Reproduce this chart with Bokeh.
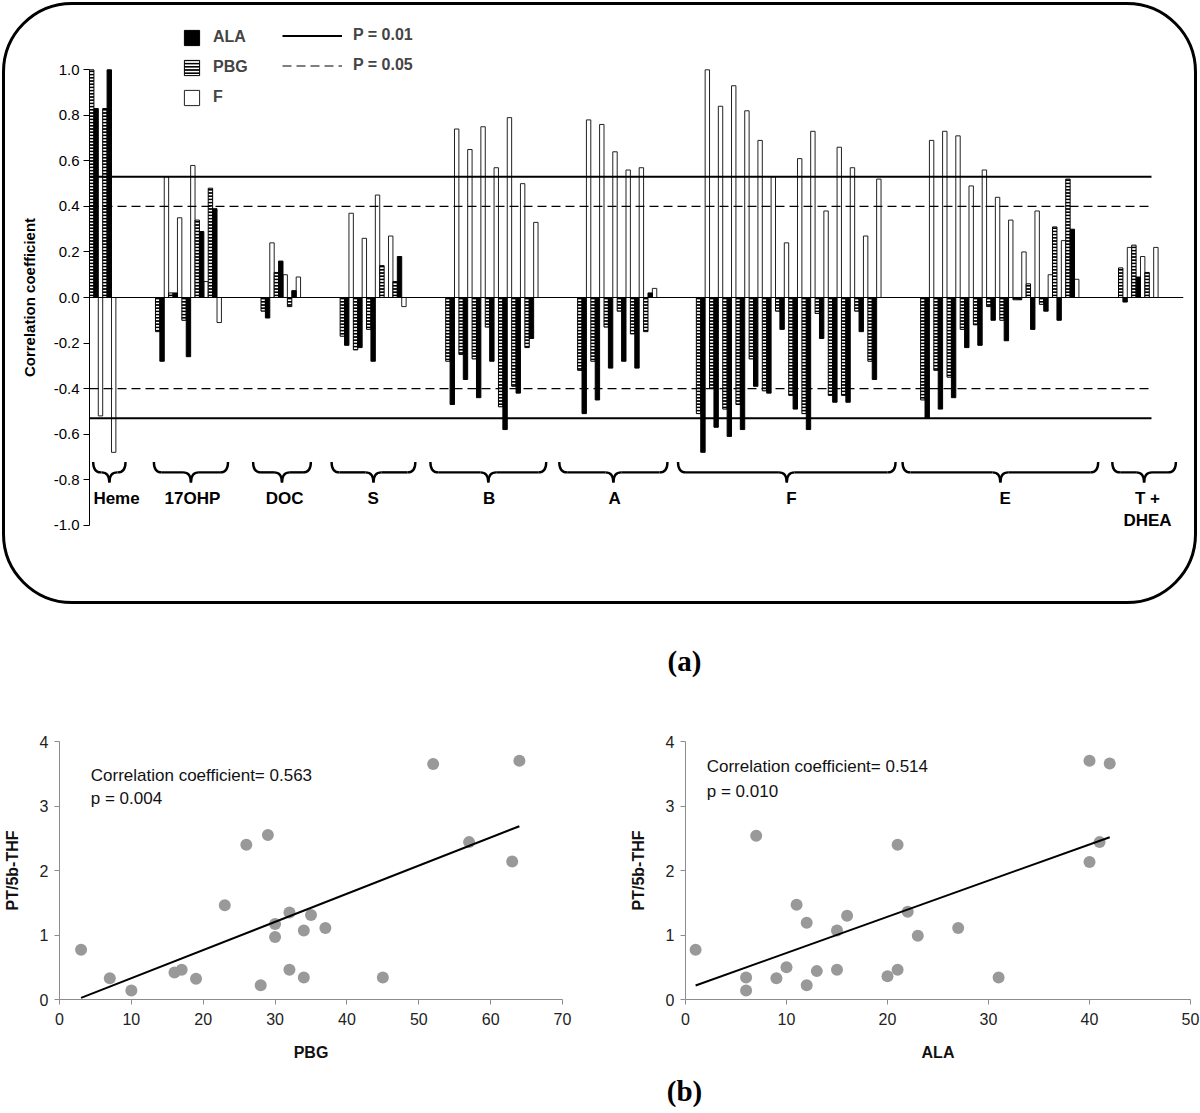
import numpy as np
from bokeh.plotting import figure
from bokeh.models import (Range1d, Span, Legend, LegendItem, Label, FixedTicker,
                          NumeralTickFormatter, ColumnDataSource)
from bokeh.layouts import column, row
from bokeh.embed import file_html
from bokeh.resources import INLINE
from bokeh.core.properties import value

FONT = "Liberation Sans"
SERIF = "Liberation Serif"

# ---------------- (a) data ----------------
group_names = ["Heme", "17OHP", "DOC", "S", "B", "A", "F", "E", "T +\nDHEA"]
group_first_category = [0, 5, 13, 19, 27, 37, 46, 63, 78]

heme_pbg = [1.00, 0.83]
heme_ala = [0.83, 1.00]
heme_f = [-0.52, -0.68]

ohp_pbg = [-0.15, 0.02, -0.10, 0.34, 0.48]
ohp_ala = [-0.28, 0.02, -0.26, 0.29, 0.39]
ohp_f = [0.53, 0.35, 0.58, 0.07, -0.11]

doc_pbg = [-0.06, 0.11, -0.04]
doc_ala = [-0.09, 0.16, 0.03]
doc_f = [0.24, 0.10, 0.09]

s_pbg = [-0.17, -0.23, -0.14, 0.14, 0.07]
s_ala = [-0.21, -0.22, -0.28, 0.00, 0.18]
s_f = [0.37, 0.26, 0.45, 0.27, -0.04]

b_pbg = [-0.28, -0.25, -0.27, -0.13, -0.48, -0.39, -0.22]
b_ala = [-0.47, -0.36, -0.44, -0.28, -0.58, -0.42, -0.18]
b_f = [0.74, 0.65, 0.75, 0.57, 0.79, 0.50, 0.33]

a_pbg = [-0.32, -0.28, -0.13, -0.06, -0.16, -0.15]
a_ala = [-0.51, -0.45, -0.31, -0.28, -0.31, 0.02]
a_f = [0.78, 0.76, 0.64, 0.56, 0.57, 0.04]

f_pbg = [-0.51, -0.40, -0.49, -0.47, -0.27, -0.41, -0.06, -0.43, -0.51, -0.07, -0.43, -0.43, -0.06, -0.28]
f_ala = [-0.68, -0.57, -0.61, -0.58, -0.39, -0.42, -0.14, -0.49, -0.58, -0.18, -0.46, -0.46, -0.15, -0.36]
f_f = [1.00, 0.84, 0.93, 0.82, 0.69, 0.53, 0.24, 0.61, 0.73, 0.38, 0.66, 0.57, 0.27, 0.52]

e_pbg = [-0.45, -0.32, -0.35, -0.14, -0.12, -0.04, -0.10, -0.01, 0.06, -0.03, 0.31, 0.52]
e_ala = [-0.53, -0.49, -0.44, -0.22, -0.21, -0.10, -0.19, -0.01, -0.14, -0.06, -0.10, 0.30]
e_f = [0.69, 0.73, 0.71, 0.49, 0.56, 0.44, 0.34, 0.20, 0.38, 0.10, 0.25, 0.08]

t_pbg = [0.13, 0.23, 0.11]
t_ala = [-0.02, 0.09, 0.00]
t_f = [0.22, 0.18, 0.22]

pbg_groups = [heme_pbg, ohp_pbg, doc_pbg, s_pbg, b_pbg, a_pbg, f_pbg, e_pbg, t_pbg]
ala_groups = [heme_ala, ohp_ala, doc_ala, s_ala, b_ala, a_ala, f_ala, e_ala, t_ala]
f_groups = [heme_f, ohp_f, doc_f, s_f, b_f, a_f, f_f, e_f, t_f]

brace_start = [0.28, 4.88, 12.40, 18.35, 25.84, 35.61, 44.61, 61.63, 77.53]
brace_end = [2.73, 10.50, 16.78, 24.70, 34.62, 43.81, 61.10, 76.46, 82.35]
label_center = [2.05, 7.80, 14.79, 21.51, 30.30, 39.80, 53.20, 69.40, 80.20]

y_ticks_a = [-1.0, -0.8, -0.6, -0.4, -0.2, 0.0, 0.2, 0.4, 0.6, 0.8, 1.0]
p_001 = 0.53
p_005 = 0.40
last_category = 80

# ---------------- (b) data ----------------
pbg_x = [3, 7, 10, 16, 17, 19, 23, 26, 28, 29, 30, 30, 32, 32, 34, 34, 35, 37, 45, 52, 57, 63, 64]
pbg_y = [0.77, 0.33, 0.14, 0.42, 0.46, 0.32, 1.46, 2.40, 0.22, 2.55, 1.17, 0.97, 1.35, 0.46,
         1.07, 0.34, 1.31, 1.11, 0.34, 3.65, 2.44, 2.14, 3.70]
ala_x = [1, 6, 6, 7, 9, 10, 11, 12, 12, 13, 15, 15, 16, 20, 21, 21, 22, 23, 27, 31, 40, 40, 41, 42]
ala_y = [0.77, 0.34, 0.14, 2.54, 0.33, 0.50, 1.47, 1.19, 0.22, 0.44, 1.07, 0.46, 1.30, 0.36,
         2.40, 0.46, 1.36, 0.99, 1.11, 0.34, 2.13, 3.70, 2.44, 3.66]
pbg_ticks = [0, 10, 20, 30, 40, 50, 60, 70]
ala_ticks = [0, 10, 20, 30, 40, 50]
thf_ticks = [0, 1, 2, 3, 4]

# ---------------- build (a) ----------------
cats, vp, va, vf = [], [], [], []
for first, gp, ga, gf in zip(group_first_category, pbg_groups, ala_groups, f_groups):
    for i in range(len(gp)):
        cats.append(first + i)
        vp.append(gp[i]); va.append(ga[i]); vf.append(gf[i])
cats = np.array(cats, dtype=float)

PX_PER_CAT = 13.12
PX_PER_UNIT = 224.5
FRAME_W, FRAME_H = 1088, 564
y_top = 282 / PX_PER_UNIT
y_bot = y_top - FRAME_H / PX_PER_UNIT

p1 = figure(frame_width=FRAME_W, frame_height=FRAME_H,
            x_range=Range1d(0, FRAME_W / PX_PER_CAT), y_range=Range1d(y_bot, y_top),
            x_axis_location=None, toolbar_location=None, output_backend="svg",
            min_border_left=84, min_border_right=17, min_border_top=6, min_border_bottom=24)
p1.styles = {"border": "3px solid black", "border-radius": "70px",
             "width": "1195px", "height": "602px", "box-sizing": "border-box",
             "margin-left": "2px", "margin-top": "2px"}
p1.background_fill_color = None
p1.border_fill_color = None
p1.xgrid.grid_line_color = None
p1.ygrid.grid_line_color = None
p1.outline_line_color = None

w = 1.0 / 3
src_p = ColumnDataSource(dict(x=cats + w / 2, top=vp))
src_a = ColumnDataSource(dict(x=cats + 1.5 * w, top=va))
src_f = ColumnDataSource(dict(x=cats + 2.5 * w, top=vf))
r_f = p1.vbar(x="x", top="top", bottom=0, width=w, source=src_f,
              fill_color="white", line_color="#222222", line_width=1)
r_p = p1.vbar(x="x", top="top", bottom=0, width=w, source=src_p,
              fill_color="white", line_color="black", line_width=1,
              hatch_pattern="horizontal_line", hatch_color="black",
              hatch_scale=3.2, hatch_weight=2.0)
r_a = p1.vbar(x="x", top="top", bottom=0, width=w, source=src_a,
              fill_color="black", line_color="black", line_width=1)

p1.add_layout(Span(location=0, dimension="width", line_color="black", line_width=1))

x_line = [0, last_category + 0.5]
r_s = p1.multi_line(xs=[x_line, x_line], ys=[[p_001, p_001], [-p_001, -p_001]],
                    line_color="black", line_width=2)
r_d = p1.multi_line(xs=[x_line, x_line], ys=[[p_005, p_005], [-p_005, -p_005]],
                    line_color="black", line_width=1.2, line_dash="9 5")

# braces
yt, ym, yb, r = -0.722, -0.768, -0.812, 0.6
bs = np.array(brace_start); be = np.array(brace_end); bm = (bs + be) / 2
qx0 = np.concatenate([bs, bm - r, bm + r, be])
qy0 = np.concatenate([np.full_like(bs, yt), np.full_like(bs, ym), np.full_like(bs, ym), np.full_like(bs, yt)])
qx1 = np.concatenate([bs + r, bm, bm, be - r])
qy1 = np.concatenate([np.full_like(bs, ym), np.full_like(bs, yb), np.full_like(bs, yb), np.full_like(bs, ym)])
qcx = np.concatenate([bs, bm, bm, be])
qcy = np.full_like(qx0, ym)
p1.quadratic(x0=qx0, y0=qy0, x1=qx1, y1=qy1, cx=qcx, cy=qcy, line_color="black", line_width=2.4)
p1.segment(x0=np.concatenate([bs + r, bm + r]), y0=np.full(2 * len(bs), ym),
           x1=np.concatenate([bm - r, be - r]), y1=np.full(2 * len(bs), ym),
           line_color="black", line_width=2.4)

p1.text(x=label_center, y=[-0.839] * len(label_center), text=group_names,
        text_align="center", text_baseline="top", text_font=value(FONT),
        text_font_style="bold", text_font_size="17px", text_line_height=1.2,
        text_color="black")

ax = p1.yaxis[0]
ax.ticker = FixedTicker(ticks=y_ticks_a)
ax.formatter = NumeralTickFormatter(format="0.0")
ax.bounds = (-1, 1)
ax.major_tick_out = 6
ax.major_tick_in = 0
ax.minor_tick_line_color = None
ax.axis_line_color = "black"
ax.major_tick_line_color = "black"
ax.major_label_text_font = FONT
ax.major_label_text_font_size = "15px"
ax.major_label_text_color = "black"
ax.major_label_standoff = 4
ax.axis_label = "Correlation coefficient"
ax.axis_label_text_font = FONT
ax.axis_label_text_font_style = "bold"
ax.axis_label_text_font_size = "15px"
ax.axis_label_text_color = "black"
ax.axis_label_standoff = 13

leg1 = Legend(items=[LegendItem(label="ALA", renderers=[r_a]),
                     LegendItem(label="PBG", renderers=[r_p]),
                     LegendItem(label="F", renderers=[r_f])],
              location=(93, FRAME_H - 87.5), orientation="vertical",
              glyph_width=19, glyph_height=19, label_height=19, label_standoff=12,
              spacing=11, padding=0, margin=0, border_line_alpha=0,
              background_fill_alpha=0, label_text_font=FONT,
              label_text_font_style="bold", label_text_font_size="16px")
leg2 = Legend(items=[LegendItem(label="P = 0.01", renderers=[r_s]),
                     LegendItem(label="P = 0.05", renderers=[r_d])],
              location=(193, FRAME_H - 55.5), orientation="vertical",
              glyph_width=60, glyph_height=19, label_height=19, label_standoff=11,
              spacing=11, padding=0, margin=0, border_line_alpha=0,
              background_fill_alpha=0, label_text_font=FONT,
              label_text_font_style="bold", label_text_font_size="16px")
p1.add_layout(leg1)
p1.add_layout(leg2)

# ---------------- captions ----------------
def caption(text, h, yfrombottom):
    c = figure(width=1200, height=h, x_axis_type=None, y_axis_type=None,
               toolbar_location=None, output_backend="svg", min_border=0,
               x_range=Range1d(0, 1), y_range=Range1d(0, 1))
    c.outline_line_color = None
    c.add_layout(Label(x=600, y=yfrombottom, x_units="screen", y_units="screen", text=text,
                       text_align="center", text_baseline="middle", text_font=SERIF,
                       text_font_style="bold", text_font_size="29px", text_color="black"))
    return c

pa = caption("(a)", 102, 46)

# ---------------- (b) scatters ----------------
def scatter_fig(xs, ys, xmax, xticks, xlabel, fw, mbl, mbr, txt, tx, ty1, ty2):
    p = figure(frame_width=fw, frame_height=258, x_range=Range1d(0, xmax), y_range=Range1d(0, 4),
               toolbar_location=None, output_backend="svg",
               min_border_left=mbl, min_border_right=mbr, min_border_top=35, min_border_bottom=71)
    p.grid.grid_line_color = None
    p.outline_line_color = None
    p.scatter(xs, ys, size=12, color="#999999", line_color=None)
    k, b0 = np.polyfit(xs, ys, 1)
    xl = np.array([min(xs), max(xs)], dtype=float)
    p.line(xl, k * xl + b0, line_color="black", line_width=2)
    p.xaxis.ticker = FixedTicker(ticks=xticks)
    p.yaxis.ticker = FixedTicker(ticks=thf_ticks)
    for a in (p.xaxis[0], p.yaxis[0]):
        a.axis_line_color = "#8c8c8c"
        a.major_tick_line_color = "#8c8c8c"
        a.major_tick_out = 5
        a.major_tick_in = 0
        a.minor_tick_line_color = None
        a.major_label_text_font = FONT
        a.major_label_text_font_size = "16px"
        a.major_label_text_color = "#222222"
        a.axis_label_text_font = FONT
        a.axis_label_text_font_style = "bold"
        a.axis_label_text_font_size = "16px"
        a.axis_label_text_color = "#111111"
    p.xaxis.axis_label = xlabel
    p.xaxis.major_label_standoff = 8
    p.xaxis.axis_label_standoff = 16
    p.yaxis.axis_label = "PT/5b-THF"
    p.yaxis.major_label_standoff = 6
    p.yaxis.axis_label_standoff = 16
    for t, yy in zip(txt, (ty1, ty2)):
        p.add_layout(Label(x=tx, y=yy, text=t, text_baseline="middle", text_font=FONT,
                           text_font_size="17px", text_color="#111111"))
    return p

p2 = scatter_fig(pbg_x, pbg_y, 70, pbg_ticks, "PBG", 503, 57, 40,
                 ["Correlation coefficient= 0.563", "p = 0.004"], 4.35, 3.48, 3.12)
p3 = scatter_fig(ala_x, ala_y, 50, ala_ticks, "ALA", 505, 83, 12,
                 ["Correlation coefficient= 0.514", "p = 0.010"], 2.1, 3.62, 3.22)

pb = caption("(b)", 43, 23)

layout = column(p1, pa, row(p2, p3), pb)
open("out.html", "w").write(file_html(layout, INLINE))
